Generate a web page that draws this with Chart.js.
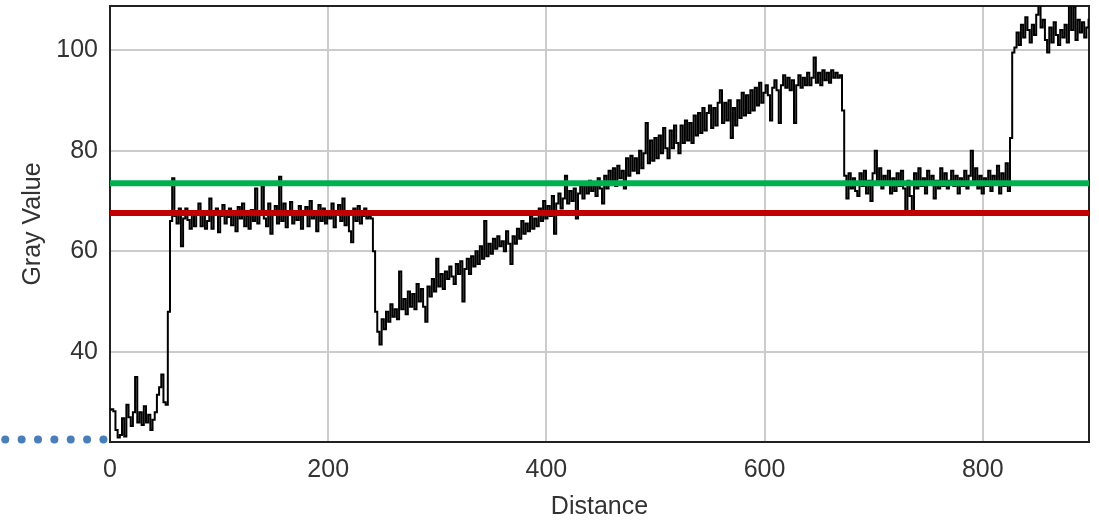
<!DOCTYPE html>
<html>
<head>
<meta charset="utf-8">
<script src="https://cdn.jsdelivr.net/npm/chart.js@4.4.1/dist/chart.umd.min.js"></script>
<style>
  html, body { margin: 0; padding: 0; background: #fff; }
</style>
</head>
<body>
<canvas id="profileChart" width="1099" height="524"></canvas>
<script>
Chart.defaults.color = '#333';
Chart.defaults.font.family = "'Liberation Sans', Arial, sans-serif";
Chart.defaults.font.size = 25;
Chart.defaults.animation = false;

// profile sampled every 2 distance units (0 .. 898), one row = 50 units
const distStep = 2;
const grayValues = [
  28.5, 28.6, 28.2, 24.5, 23.0, 23.5, 26.8, 23.2, 29.5, 27.0, 25.3, 28.0, 35.0, 26.0, 28.0, 25.5, 29.2, 26.0, 27.5, 24.5, 26.5, 28.0, 31.5, 33.0, 35.5,
  30.0, 29.5, 48.0, 66.0, 74.5, 67.0, 65.5, 68.5, 61.0, 66.5, 68.5, 66.2, 64.5, 68.0, 65.0, 67.5, 69.5, 65.0, 67.8, 64.5, 66.0, 70.5, 64.5, 67.2, 68.5,
  63.8, 67.0, 69.2, 65.5, 66.8, 68.5, 65.2, 67.5, 64.0, 68.8, 66.5, 69.5, 65.0, 67.0, 64.5, 68.2, 66.0, 72.5, 65.5, 68.0, 73.0, 66.5, 65.0, 69.5, 63.5,
  67.5, 69.0, 65.5, 74.8, 66.0, 69.5, 64.8, 67.2, 69.8, 65.5, 68.0, 66.2, 69.0, 64.5, 67.8, 68.8, 65.0, 70.0, 66.5, 67.5, 64.0, 69.2, 66.0, 68.5, 65.5,
  68.0, 66.5, 69.5, 64.8, 67.5, 69.2, 66.0, 70.5, 65.2, 67.5, 64.0, 61.8, 68.5, 66.0, 69.0, 65.5, 67.0, 68.5, 66.5, 67.0, 66.5, 60.0, 48.0, 44.0, 41.5,
  46.5, 44.5, 48.0, 46.0, 49.5, 47.0, 48.5, 46.5, 56.0, 48.5, 50.5, 47.5, 52.0, 49.0, 51.5, 48.5, 53.5, 50.0, 52.5, 49.0, 46.0, 53.0, 51.0, 54.5, 52.0,
  58.5, 53.0, 55.5, 52.5, 56.0, 54.5, 57.0, 55.0, 53.5, 57.5, 55.5, 58.0, 50.0, 56.5, 58.5, 55.5, 59.0, 57.0, 60.0, 57.5, 61.0, 58.5, 66.0, 59.0, 61.5,
  59.5, 62.5, 60.5, 63.0, 61.0, 62.0, 60.0, 64.0, 61.5, 57.5, 63.0, 61.5, 64.5, 62.5, 66.0, 63.5, 65.5, 64.0, 67.0, 64.5, 66.5, 65.0, 68.5, 66.0, 70.0,
  66.5, 69.0, 67.0, 71.0, 63.5, 69.5, 71.5, 68.5, 70.5, 75.0, 69.5, 72.0, 70.0, 72.5, 66.5, 71.5, 73.0, 70.5, 73.5, 71.5, 74.0, 72.0, 73.0, 71.0, 74.5,
  72.5, 69.5, 75.0, 72.5, 76.0, 73.5, 76.5, 73.0, 77.0, 74.5, 76.0, 72.5, 78.5, 75.0, 79.0, 76.0, 78.5, 75.5, 80.0, 76.5, 79.5, 85.5, 77.5, 82.0, 78.0,
  82.5, 78.5, 83.0, 79.5, 84.5, 80.5, 78.5, 84.0, 80.5, 85.0, 81.5, 79.5, 85.0, 81.5, 86.0, 82.0, 85.5, 81.5, 87.0, 83.0, 87.5, 83.5, 88.5, 84.0, 87.5,
  89.0, 84.5, 88.5, 85.0, 89.5, 92.0, 85.5, 89.5, 86.0, 90.0, 82.5, 88.5, 85.0, 90.0, 86.5, 91.5, 87.0, 91.0, 87.5, 92.0, 88.0, 92.5, 89.0, 93.5, 89.5,
  91.5, 93.0, 91.0, 86.0, 92.5, 94.0, 92.0, 85.5, 93.0, 95.0, 92.5, 94.5, 92.0, 94.0, 85.5, 93.0, 95.0, 92.5, 94.5, 93.0, 95.5, 93.0, 94.5, 98.5, 93.5,
  95.5, 93.0, 96.0, 94.0, 95.5, 93.5, 96.0, 94.5, 95.5, 94.5, 95.0, 88.0, 75.0, 70.5, 75.5, 72.5, 74.5, 72.0, 71.0, 75.5, 73.0, 76.0, 71.5, 74.0, 70.0,
  75.5, 80.0, 73.5, 76.5, 72.5, 75.0, 73.5, 76.0, 71.5, 74.5, 72.0, 75.5, 73.0, 76.0, 72.5, 68.0, 74.0, 71.0, 68.0, 75.5, 72.5, 76.5, 73.0, 74.5, 71.5,
  76.0, 73.5, 75.0, 70.5, 74.0, 72.5, 76.5, 73.0, 75.5, 72.5, 74.0, 76.0, 73.0, 75.0, 71.5, 74.5, 73.0, 76.0, 72.5, 75.0, 80.0, 74.0, 76.5, 72.5, 75.0,
  71.5, 74.5, 73.0, 76.0, 72.0, 75.0, 73.5, 77.0, 71.5, 75.5, 73.0, 77.5, 72.0, 82.5, 99.5, 100.5, 103.5, 101.0, 105.0, 102.5, 106.5, 104.0, 101.5, 105.0, 103.0,
  107.0, 109.5, 104.5, 106.0, 102.0, 99.5, 104.5, 101.5, 105.5, 103.0, 101.0, 104.0, 102.5, 105.0, 101.5, 109.0, 104.0, 108.5, 102.0, 106.0, 103.5, 105.5, 102.5, 104.5, 106.0
];

const greenLevel = 73.5;
const redLevel = 67.6;

// blue dotted marker left of the axis
const dotDistances = [-96, -81, -66, -51, -36, -21, -6];
const dotLevel = 22.6;

const xRange = [0, 897.4];
const yRange = [22.1, 108.75];

const profilePoints = grayValues.map((v, i) => ({x: i * distStep, y: v}));
const levelLine = y => [{x: xRange[0], y: y}, {x: xRange[1], y: y}];

const framePlugin = {
  id: 'frame',
  beforeDatasetsDraw(chart) {
    const {ctx, chartArea} = chart;
    ctx.save();
    ctx.strokeStyle = '#222';
    ctx.lineWidth = 2;
    ctx.strokeRect(chartArea.left, chartArea.top, chartArea.right - chartArea.left, chartArea.bottom - chartArea.top);
    ctx.restore();
  }
};

// the dots sit outside the plot area, so they are placed through the scales here
const dotsPlugin = {
  id: 'dots',
  afterDatasetsDraw(chart) {
    const {ctx, scales} = chart;
    ctx.save();
    ctx.fillStyle = '#4a7ebb';
    dotDistances.forEach(d => {
      ctx.beginPath();
      ctx.arc(scales.x.getPixelForValue(d), scales.y.getPixelForValue(dotLevel), 4, 0, Math.PI * 2);
      ctx.fill();
    });
    ctx.restore();
  }
};

const data = {
  datasets: [
    {data: levelLine(greenLevel), borderColor: '#00b050', borderWidth: 6, pointRadius: 0, order: 0},
    {data: levelLine(redLevel), borderColor: '#c00000', borderWidth: 6, pointRadius: 0, order: 0},
    {data: profilePoints, borderColor: '#000', borderWidth: 2, pointRadius: 0, stepped: 'middle', order: 2}
  ]
};

const options = {
  responsive: false,
  layout: {padding: {top: 6, right: 10, left: 0, bottom: 0}},
  plugins: {legend: {display: false}, tooltip: {enabled: false}},
  scales: {
    x: {
      type: 'linear', min: xRange[0], max: xRange[1],
      ticks: {stepSize: 200, includeBounds: false, padding: 13, maxRotation: 0},
      grid: {color: '#cccccc', lineWidth: 2, drawTicks: false},
      border: {display: false},
      title: {display: true, text: 'Distance', padding: {top: 0, bottom: 2}},
      afterFit: s => { s.height = 82; s.paddingLeft = 0; s.paddingRight = 0; }
    },
    y: {
      type: 'linear', min: yRange[0], max: yRange[1],
      ticks: {stepSize: 20, includeBounds: false, padding: 12},
      grid: {color: '#cccccc', lineWidth: 2, drawTicks: false},
      border: {display: false},
      title: {display: true, text: 'Gray Value', padding: {top: 18, bottom: 0}},
      afterFit: s => { s.width = 110; s.paddingTop = 0; s.paddingBottom = 0; }
    }
  }
};

new Chart('profileChart', {type: 'line', data, options, plugins: [framePlugin, dotsPlugin]});
</script>
</body>
</html>
